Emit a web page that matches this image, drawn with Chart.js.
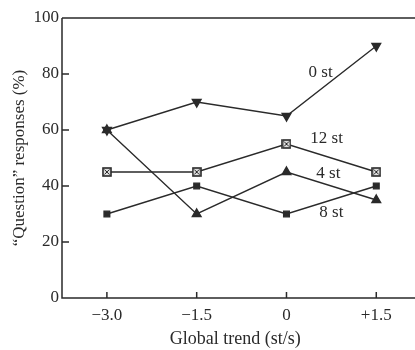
<!DOCTYPE html>
<html>
<head>
<meta charset="utf-8">
<script src="https://cdn.jsdelivr.net/npm/chart.js@4"></script>
<style>
  html, body { margin: 0; padding: 0; background: #fff; }
  #wrap { width: 415px; height: 350px; }
</style>
</head>
<body>
<div id="wrap"><canvas id="myChart"></canvas></div>
<script>
// data
const trends = [-3.0, -1.5, 0, 1.5];
const tickLabels = { '-3': '\u22123.0', '-1.5': '\u22121.5', '0': '0', '1.5': '+1.5' };
const st0 = [60, 70, 65, 90];
const st12 = [45, 45, 55, 45];
const st4 = [60, 30, 45, 35];
const st8 = [30, 40, 30, 40];
const seriesNames = ['0 st', '12 st', '4 st', '8 st'];
// where the in-plot labels sit (data units)
const labelX = [0.57, 0.67, 0.7, 0.75];
const labelY = [80.5, 57, 44.5, 30.5];

const ink = '#2a2a2a';
const serif = '"Liberation Serif", "DejaVu Serif", serif';

function pts(vals) {
    return vals.map((v, i) => ({ x: trends[i], y: v }));
}

// boxed-x marker for 12 st
function boxedX() {
    const c = document.createElement('canvas');
    c.width = 10; c.height = 10;
    const g = c.getContext('2d');
    g.fillStyle = '#ddd';
    g.fillRect(1, 1, 8, 8);
    g.strokeStyle = ink;
    g.lineWidth = 1.6;
    g.strokeRect(1, 1, 8, 8);
    g.lineWidth = 1;
    g.beginPath();
    g.moveTo(2.5, 2.5); g.lineTo(7.5, 7.5);
    g.moveTo(7.5, 2.5); g.lineTo(2.5, 7.5);
    g.stroke();
    return c;
}

const frame = {
    id: 'frame',
    afterDraw(chart) {
        const ctx = chart.ctx;
        const a = chart.chartArea;
        const xs = chart.scales.x, ys = chart.scales.y;
        ctx.save();
        ctx.strokeStyle = ink;
        ctx.lineWidth = 1.5;
        ctx.beginPath();
        ctx.moveTo(a.left, a.top); ctx.lineTo(chart.width, a.top);
        ctx.moveTo(a.left, a.top); ctx.lineTo(a.left, a.bottom);
        ctx.lineTo(chart.width, a.bottom);
        // inward ticks
        [20, 40, 60, 80].forEach(v => {
            const y = ys.getPixelForValue(v);
            ctx.moveTo(a.left, y); ctx.lineTo(a.left + 7, y);
        });
        trends.forEach(v => {
            const x = xs.getPixelForValue(v);
            ctx.moveTo(x, a.bottom); ctx.lineTo(x, a.bottom - 6);
        });
        ctx.stroke();
        // series labels
        ctx.fillStyle = ink;
        ctx.font = '17px ' + serif;
        ctx.textAlign = 'center';
        ctx.textBaseline = 'middle';
        seriesNames.forEach((n, i) => {
            ctx.fillText(n, xs.getPixelForValue(labelX[i]), ys.getPixelForValue(labelY[i]));
        });
        ctx.restore();
    }
};

const lineStyle = {
    borderColor: ink,
    backgroundColor: ink,
    pointBorderColor: ink,
    pointBackgroundColor: ink,
    borderWidth: 1.4,
    tension: 0,
    fill: false,
    clip: false
};

const data = {
    datasets: [
        Object.assign({ label: '0 st', data: pts(st0), pointStyle: 'triangle', pointRotation: 180, pointRadius: 5 }, lineStyle),
        Object.assign({ label: '12 st', data: pts(st12), pointStyle: boxedX(), pointRadius: 5 }, lineStyle),
        Object.assign({ label: '4 st', data: pts(st4), pointStyle: 'triangle', pointRadius: 5 }, lineStyle),
        Object.assign({ label: '8 st', data: pts(st8), pointStyle: 'rect', pointRadius: 4 }, lineStyle)
    ]
};

const config = {
    type: 'line',
    data: data,
    options: {
        responsive: true,
        maintainAspectRatio: false,
        animation: false,
        layout: { padding: { top: 18, right: 0, left: 0, bottom: 0 } },
        plugins: {
            legend: { display: false },
            tooltip: { enabled: false }
        },
        scales: {
            x: {
                type: 'linear',
                min: -3.75,
                max: 2.04,
                afterBuildTicks: (s) => { s.ticks = trends.map(v => ({ value: v })); },
                afterFit: (s) => { s.height = 52; },
                grid: { display: false, drawTicks: false },
                border: { display: false },
                ticks: {
                    color: ink,
                    padding: 7,
                    font: { family: serif, size: 17 },
                    callback: (v) => tickLabels[String(v)]
                },
                title: {
                    display: true,
                    text: 'Global trend (st/s)',
                    color: ink,
                    font: { family: serif, size: 18 },
                    padding: { top: 4, bottom: 0 }
                }
            },
            y: {
                min: 0,
                max: 100,
                afterFit: (s) => { s.width = 62; },
                grid: { display: false, drawTicks: false },
                border: { display: false },
                ticks: {
                    color: ink,
                    stepSize: 20,
                    padding: 3,
                    font: { family: serif, size: 17 }
                },
                title: {
                    display: true,
                    text: '\u201cQuestion\u201d responses (%)',
                    color: ink,
                    font: { family: serif, size: 17 },
                    padding: { top: 9, bottom: 0 }
                }
            }
        }
    },
    plugins: [frame]
};

window.myChart = new Chart(document.getElementById('myChart'), config);
</script>
</body>
</html>
